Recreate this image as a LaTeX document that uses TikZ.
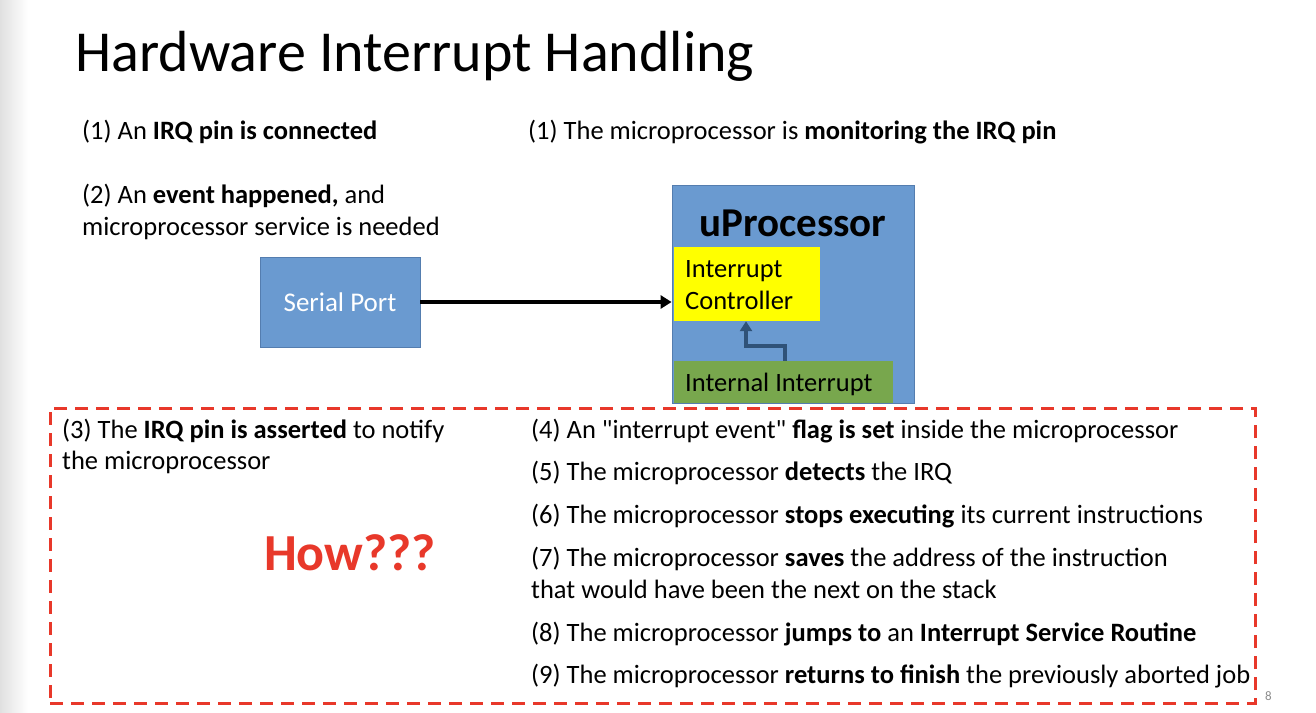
\documentclass[tikz,border=0pt]{standalone}
\usepackage{fontspec}
\setmainfont{Carlito}[Ligatures=TeXOff]
\usetikzlibrary{arrows.meta}
\definecolor{boxblue}{RGB}{106,154,208}
\definecolor{boxedge}{RGB}{84,125,175}
\definecolor{ctrlyellow}{RGB}{255,255,0}
\definecolor{intgreen}{RGB}{120,167,77}
\definecolor{dashred}{RGB}{232,56,42}
\definecolor{arrowblue}{RGB}{47,82,120}
\tikzset{
  txt/.style={anchor=base west, inner sep=0pt, font=\fontsize{26.5}{31}\selectfont},
  blk/.style={draw=boxedge, line width=0.8pt, fill=boxblue},
}
\begin{document}
\begin{tikzpicture}[x=1pt,y=-1pt]
\useasboundingbox (0,0) rectangle (1316,712);
\fill[white] (0,0) rectangle (1316,712);
\shade[left color=black!12, right color=white] (0,0) rectangle (28,712);
% title
\node[anchor=base west, inner sep=0pt, font=\fontsize{58}{66}\selectfont] (title) at (75,71) {Hardware Interrupt Handling};
% top texts
\node[txt] (t1a) at (82,139) {(1) An \textbf{IRQ pin is connected}};
\node[txt] (t1b) at (528,139) {(1) The microprocessor is \textbf{monitoring the IRQ pin}};
\node[txt] (t2a) at (82,203) {(2) An \textbf{event happened,} and};
\node[txt] (t2b) at (82,235) {microprocessor service is needed};
% serial port
\node[blk, minimum width=160pt, minimum height=90pt, inner sep=0pt, text=white, font=\fontsize{27}{31}\selectfont] (sp) at (340,302) {Serial Port};
% uProcessor
\node[blk, minimum width=242pt, minimum height=218pt, inner sep=0pt] (up) at (793,294) {};
\node[anchor=base, inner sep=0pt, font=\fontsize{41}{46}\bfseries\selectfont] (uplabel) at (793,236) {uProcessor};
\node[fill=ctrlyellow, minimum width=146pt, minimum height=74pt, inner sep=0pt] (ic) at (747,284) {};
\node[txt] (ic1) at (685,277) {Interrupt};
\node[txt] (ic2) at (685,309) {Controller};
\node[fill=intgreen, minimum width=219pt, minimum height=42pt, inner sep=0pt] (ii) at (783.5,382) {};
\node[txt] (ii1) at (685,391) {Internal Interrupt};
% arrows
\draw[line width=4pt, -{Triangle[length=11pt,width=13pt]}] (sp.east) -- (sp.east -| up.west);
\coordinate (iiTop) at ([xshift=1.5pt]ii.north);
\coordinate (icBot) at ([xshift=-1pt]ic.south);
\draw[arrowblue, line width=3.5pt, -{Triangle[length=10pt,width=12pt]}] (iiTop) -- ++(0,-15) -| (icBot);
% red dashed box
\node[draw=dashred, line width=3pt, dash pattern=on 13pt off 8pt, minimum width=1205pt, minimum height=295pt, inner sep=0pt] (frame) at (652.5,555.5) {};
% left texts
\node[txt] (t3a) at (62,438) {(3) The \textbf{IRQ pin is asserted} to notify};
\node[txt] (t3b) at (62,469) {the microprocessor};
\node[anchor=base, inner sep=0pt, text=dashred, font=\fontsize{52}{58}\bfseries\selectfont] (how) at (350,570) {How???};
% right texts
\node[txt] (t4) at (531,438) {(4) An "interrupt event" \textbf{flag is set} inside the microprocessor};
\node[txt] (t5) at (531,480) {(5) The microprocessor \textbf{detects} the IRQ};
\node[txt] (t6) at (531,523) {(6) The microprocessor \textbf{stops executing} its current instructions};
\node[txt] (t7a) at (531,566) {(7) The microprocessor \textbf{saves} the address of the instruction};
\node[txt] (t7b) at (531,598) {that would have been the next on the stack};
\node[txt] (t8) at (531,641) {(8) The microprocessor \textbf{jumps to} an \textbf{Interrupt Service Routine}};
\node[txt] (t9) at (531,683) {(9) The microprocessor \textbf{returns to finish} the previously aborted job};
% page number
\node[anchor=base west, inner sep=0pt, text=black!45, font=\fontsize{13}{15}\selectfont] (pg) at (1265,700) {8};
\end{tikzpicture}
\end{document}
